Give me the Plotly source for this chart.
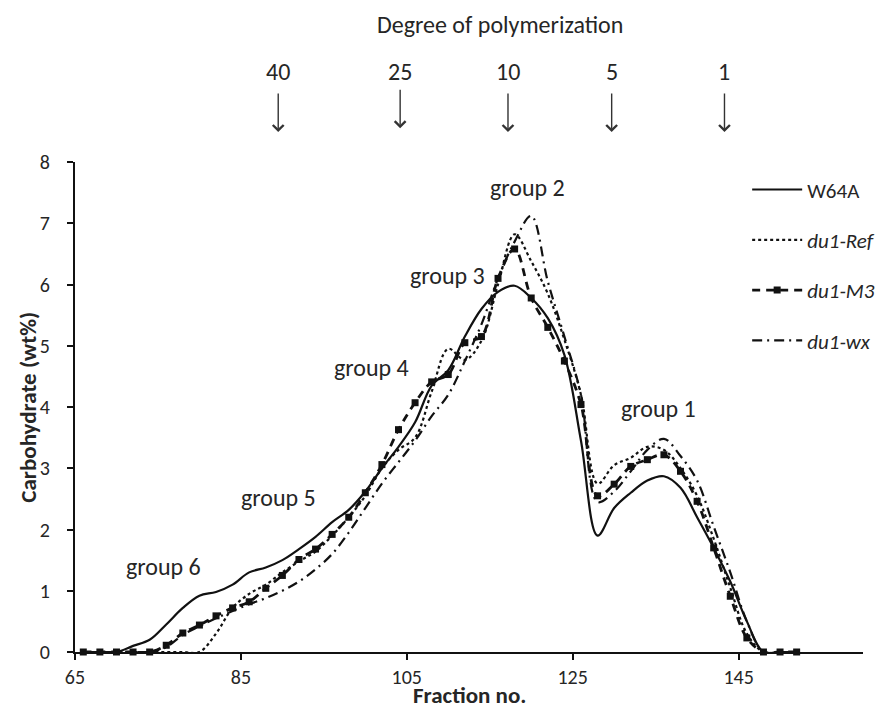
import plotly.graph_objects as go

# ---------------- data ----------------
fraction = [66, 68, 70, 72, 74, 76, 78, 80, 82, 84, 86, 88, 90, 92, 94, 96, 98, 100,
            102, 104, 106, 108, 110, 112, 114, 116, 118, 120, 122, 124, 126, 128, 130,
            132, 134, 136, 138, 140, 142, 144, 146, 148, 150, 152]

w64a = [0, 0, 0, 0.10, 0.20, 0.45, 0.72, 0.92, 0.98, 1.10, 1.30, 1.38, 1.50, 1.68, 1.88,
        2.12, 2.32, 2.62, 3.00, 3.35, 3.75, 4.35, 4.60, 5.15, 5.60, 5.88, 5.98, 5.78,
        5.45, 4.85, 3.45, 1.90, 2.35, 2.60, 2.80, 2.87, 2.68, 2.20, 1.70, 1.15, 0.50,
        0, 0, 0]

du1_ref = [0, 0, 0, 0, 0, 0, 0, 0, 0.30, 0.72, 0.95, 1.10, 1.30, 1.48, 1.64, 1.90, 2.20,
           2.55, 3.00, 3.30, 3.50, 4.25, 4.95, 4.77, 5.08, 6.00, 6.82, 6.38, 5.85, 5.10,
           4.20, 2.75, 3.05, 3.17, 3.35, 3.30, 3.00, 2.55, 1.85, 1.05, 0.30, 0, 0, 0]

du1_m3 = [0, 0, 0, 0, 0, 0.11, 0.31, 0.44, 0.59, 0.72, 0.82, 1.04, 1.25, 1.51, 1.68,
          1.92, 2.20, 2.60, 3.06, 3.63, 4.07, 4.41, 4.53, 5.05, 5.15, 6.10, 6.58, 5.78,
          5.30, 4.75, 4.04, 2.55, 2.74, 3.03, 3.14, 3.22, 2.95, 2.46, 1.70, 0.91, 0.23,
          0, 0, 0]

du1_wx = [0, 0, 0, 0, 0, 0.08, 0.28, 0.42, 0.55, 0.67, 0.78, 0.88, 1.00, 1.15, 1.35,
          1.60, 1.95, 2.35, 2.75, 3.10, 3.45, 3.85, 4.20, 4.75, 5.35, 6.10, 6.70, 7.12,
          6.05, 5.15, 4.20, 2.45, 2.62, 2.95, 3.30, 3.48, 3.20, 2.80, 2.05, 1.30, 0.50,
          0, 0, 0]

x_ticks = [65, 85, 105, 125, 145]
y_ticks = [0, 1, 2, 3, 4, 5, 6, 7, 8]

# degree of polymerization markers (fraction position)
dp_labels = ["40", "25", "10", "5", "1"]
dp_fraction = [89.5, 104.2, 117.2, 129.7, 143.3]

# peak group labels
group_labels = ["group 1", "group 2", "group 3", "group 4", "group 5", "group 6"]
group_x = [135.3, 119.5, 109.9, 100.7, 89.5, 75.7]
group_y = [3.97, 7.58, 6.14, 4.64, 2.53, 1.39]

# ---------------- figure ----------------
FONT = "Carlito, Calibri, Lato, sans-serif"
TXT = "#262626"
INK = "#111111"

fig = go.Figure()

series = [
    ("W64A", w64a, dict(color=INK, width=2.2, dash="solid", shape="spline", smoothing=1.0), None),
    ("<i>du1-Ref</i>", du1_ref, dict(color=INK, width=2.2, dash="dot", shape="spline", smoothing=1.0), None),
    ("<i>du1-M3</i>", du1_m3, dict(color=INK, width=2.8, dash="8px,6px", shape="spline", smoothing=1.0),
     dict(symbol="square", size=7, color=INK)),
    ("<i>du1-wx</i>", du1_wx, dict(color=INK, width=2.2, dash="10px,5px,2px,5px", shape="spline", smoothing=1.0), None),
]

for i, (name, ys, line, marker) in enumerate(series):
    fig.add_trace(go.Scatter(
        x=fraction, y=ys, name=name,
        mode="lines+markers" if marker else "lines",
        line=line, marker=marker,
        legendgroup=f"g{i}",
        cliponaxis=False,
    ))

annotations = []
for lab, gx, gy in zip(group_labels, group_x, group_y):
    annotations.append(dict(x=gx, y=gy, xref="x", yref="y", text=lab, showarrow=False,
                            xanchor="center", yanchor="middle",
                            font=dict(family=FONT, size=24, color=TXT)))

# Degree of polymerization header
annotations.append(dict(x=0.539, y=1.28, xref="paper", yref="paper",
                        text="Degree of polymerization", showarrow=False,
                        xanchor="center", yanchor="middle",
                        font=dict(family=FONT, size=24, color=TXT)))
for lab, fx in zip(dp_labels, dp_fraction):
    annotations.append(dict(x=fx, y=1.184, xref="x", yref="paper", text=lab,
                            showarrow=False, xanchor="center", yanchor="middle",
                            font=dict(family=FONT, size=24, color=TXT)))
    tip = 1.069 if lab == "25" else 1.061
    annotations.append(dict(x=fx, y=tip, xref="x", yref="paper", text="",
                            showarrow=True, ax=0, ay=-40, arrowhead=4,
                            arrowsize=1.5, arrowwidth=1.4, arrowcolor="#333333"))

# axis titles
annotations.append(dict(x=0.5, y=-0.088, xref="paper", yref="paper",
                        text="<b>Fraction no.</b>", showarrow=False,
                        xanchor="center", yanchor="middle",
                        font=dict(family=FONT, size=23, color=TXT)))
annotations.append(dict(x=-0.06, y=0.5, xref="paper", yref="paper",
                        text="<b>Carbohydrate (wt%)</b>", showarrow=False, textangle=-90,
                        xanchor="center", yanchor="middle",
                        font=dict(family=FONT, size=23, color=TXT)))

fig.update_layout(
    width=884, height=715,
    margin=dict(l=75, r=4, t=162, b=63),
    paper_bgcolor="white", plot_bgcolor="white",
    font=dict(family=FONT, size=20, color=TXT),
    showlegend=True,
    legend=dict(x=0.853, y=0.985, xanchor="left", yanchor="top",
                bgcolor="rgba(0,0,0,0)", font=dict(family=FONT, size=21, color=TXT),
                tracegroupgap=20, itemwidth=50),
    annotations=annotations,
)

fig.update_xaxes(range=[65, 160], tickmode="array", tickvals=x_ticks,
                 showline=True, linecolor=INK, linewidth=2, ticks="outside",
                 ticklen=6, tickwidth=1.5, tickcolor=INK, showgrid=False, zeroline=False,
                 tickfont=dict(family=FONT, size=20, color=TXT))
fig.update_yaxes(range=[0, 8], tickmode="array", tickvals=y_ticks,
                 showline=True, linecolor=INK, linewidth=2, ticks="outside",
                 ticklen=6, tickwidth=1.5, tickcolor=INK, showgrid=False, zeroline=False,
                 ticklabelstandoff=13,
                 tickfont=dict(family=FONT, size=20, color=TXT))

fig.write_html("out.html")
